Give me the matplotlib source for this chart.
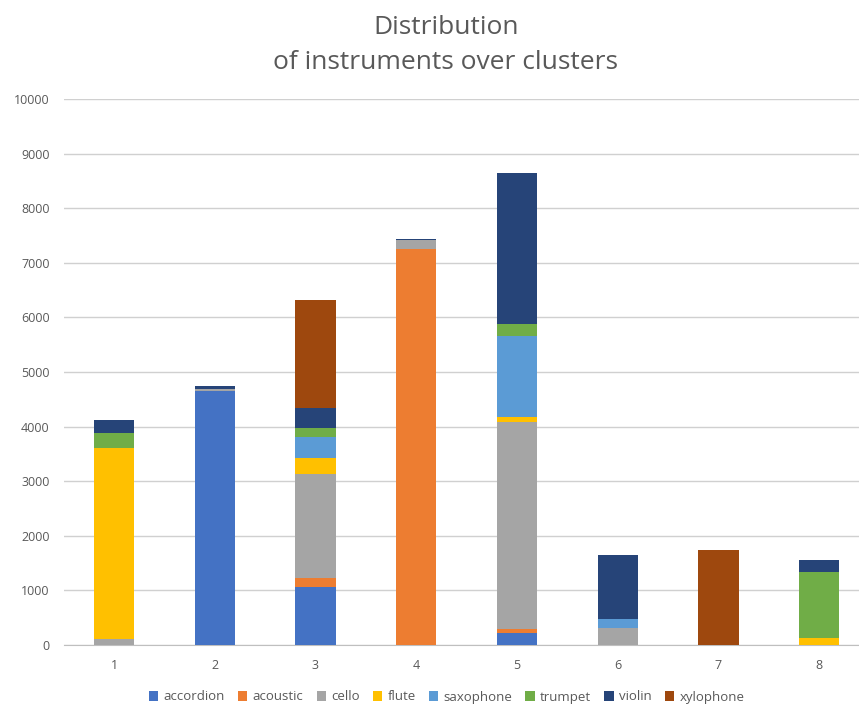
import matplotlib
matplotlib.use("Agg")
import matplotlib.pyplot as plt
import numpy as np

plt.rcParams['font.family'] = ['Open Sans', 'DejaVu Sans']

clusters = ["1", "2", "3", "4", "5", "6", "7", "8"]
instruments = ["accordion", "acoustic", "cello", "flute", "saxophone", "trumpet", "violin", "xylophone"]

accordion = [0, 4660, 1056, 0, 214, 0, 0, 0]
acoustic = [0, 0, 165, 7250, 73, 0, 0, 0]
cello = [110, 20, 1905, 160, 3790, 305, 0, 0]
flute = [3500, 0, 293, 0, 92, 0, 0, 122]
saxophone = [0, 0, 396, 0, 1490, 165, 0, 0]
trumpet = [270, 0, 165, 0, 215, 0, 0, 1209]
violin = [240, 65, 367, 20, 2776, 1178, 0, 226]
xylophone = [0, 0, 1972, 0, 0, 0, 1740, 0]

series = [accordion, acoustic, cello, flute, saxophone, trumpet, violin, xylophone]
colors = ["#4472C4", "#ED7D31", "#A5A5A5", "#FFC000", "#5B9BD5", "#70AD47", "#264478", "#9E480E"]

fig = plt.figure(figsize=(8.59, 7.06), dpi=100)
# plot area runs slightly past the right edge of the canvas
ax = fig.add_axes([63.6 / 859, 1 - 645 / 706, 806 / 859, 546 / 706])

x = np.arange(len(clusters))
bottom = np.zeros(len(clusters))
for name, vals, col in zip(instruments, series, colors):
    vals = np.array(vals, dtype=float)
    ax.bar(x, vals, width=0.4, bottom=bottom, color=col, label=name,
           linewidth=0, zorder=3)
    bottom += vals

ax.set_xlim(-0.5, len(clusters) - 0.5)
ax.set_ylim(0, 10000)
ax.set_yticks(np.arange(0, 10001, 1000))
ax.set_xticks(x)
ax.set_xticklabels(clusters)
ax.yaxis.grid(True, color="#D0D0D0", linewidth=1.0, zorder=0)
for s in ["top", "right", "left"]:
    ax.spines[s].set_visible(False)
ax.spines["bottom"].set_color("#BFBFBF")
ax.tick_params(axis="y", length=0, pad=10, labelsize=9, labelcolor="#595959")
ax.tick_params(axis="x", length=0, pad=10, labelsize=9, labelcolor="#595959")

fig.text(0.519, 1 - 15 / 706, "Distribution", ha="center", va="top", fontsize=19, color="#595959")
fig.text(0.519, 1 - 50 / 706, "of instruments over clusters", ha="center", va="top", fontsize=19, color="#595959")

leg = fig.legend(loc="center", ncol=8, frameon=False,
                 fontsize=9.5, handlelength=0.7, handleheight=0.7, handletextpad=0.4,
                 columnspacing=1.0, labelcolor="#595959",
                 bbox_to_anchor=(0.52, 1 - 697 / 706), bbox_transform=fig.transFigure)

fig.savefig("out.png", dpi=100)
